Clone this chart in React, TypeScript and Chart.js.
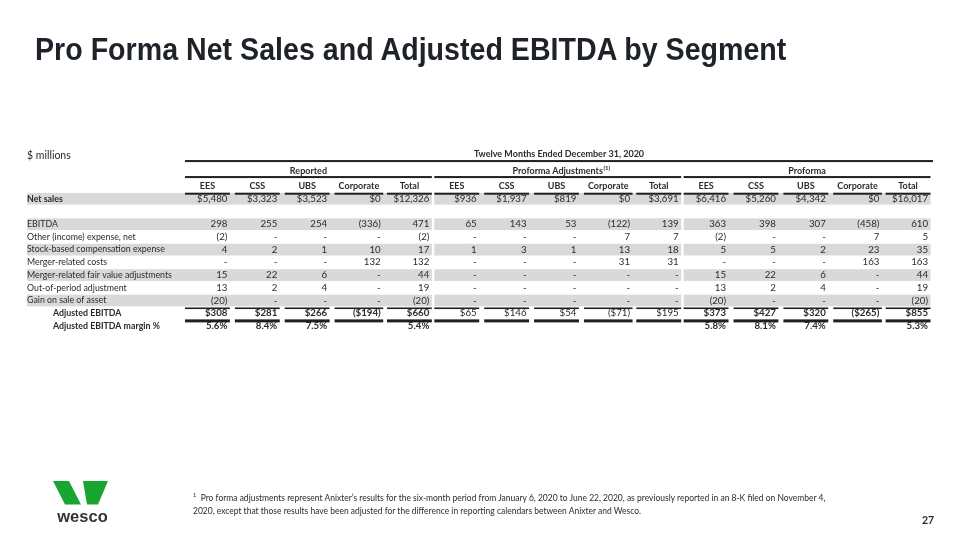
import React, { useEffect, useRef } from 'react';
import { Chart, registerables } from 'chart.js';

Chart.register(...registerables);

// ---------- text ----------
const titleText = 'Pro Forma Net Sales and Adjusted EBITDA by Segment';
const unitText = '$ millions';
const periodText = 'Twelve Months Ended December 31, 2020';
const groups = ['Reported', 'Proforma Adjustments', 'Proforma'];
const groupNotes = ['', '(1)', ''];
const segments = ['EES', 'CSS', 'UBS', 'Corporate', 'Total'];
const rowKeys = [
  '',
  'Net sales',
  ' ',
  'EBITDA',
  'Other (income) expense, net',
  'Stock-based compensation expense',
  'Merger-related costs',
  'Merger-related fair value adjustments',
  'Out-of-period adjustment',
  'Gain on sale of asset',
  'Adjusted EBITDA',
  'Adjusted EBITDA margin %',
];
const rowFormats = ['header', 'currency', 'blank', 'plain', 'plain', 'plain', 'plain', 'plain', 'plain', 'plain', 'currency', 'percent'];
const footnoteLine1 = 'Pro forma adjustments represent Anixter\u2019s results for the six-month period from January 6, 2020 to June 22, 2020, as previously reported in an 8-K filed on November 4,';
const footnoteLine2 = '2020, except that those results have been adjusted for the difference in reporting calendars between Anixter and Wesco.';
const pageNumber = '27';

// ---------- values (null = "-") ----------
const reportedNetSales = [5480, 3323, 3523, 0, 12326];
const reportedEbitda = [298, 255, 254, -336, 471];
const reportedOtherExpense = [-2, null, null, null, -2];
const reportedStockComp = [4, 2, 1, 10, 17];
const reportedMergerCosts = [null, null, null, 132, 132];
const reportedMergerFairValue = [15, 22, 6, null, 44];
const reportedOutOfPeriod = [13, 2, 4, null, 19];
const reportedGainOnSale = [-20, null, null, null, -20];
const reportedAdjEbitda = [308, 281, 266, -194, 660];
const reportedMargin = [5.6, 8.4, 7.5, null, 5.4];

const adjNetSales = [936, 1937, 819, 0, 3691];
const adjEbitda = [65, 143, 53, -122, 139];
const adjOtherExpense = [null, null, null, 7, 7];
const adjStockComp = [1, 3, 1, 13, 18];
const adjMergerCosts = [null, null, null, 31, 31];
const adjMergerFairValue = [null, null, null, null, null];
const adjOutOfPeriod = [null, null, null, null, null];
const adjGainOnSale = [null, null, null, null, null];
const adjAdjEbitda = [65, 146, 54, -71, 195];
const adjMargin = [null, null, null, null, null];

const proformaNetSales = [6416, 5260, 4342, 0, 16017];
const proformaEbitda = [363, 398, 307, -458, 610];
const proformaOtherExpense = [-2, null, null, 7, 5];
const proformaStockComp = [5, 5, 2, 23, 35];
const proformaMergerCosts = [null, null, null, 163, 163];
const proformaMergerFairValue = [15, 22, 6, null, 44];
const proformaOutOfPeriod = [13, 2, 4, null, 19];
const proformaGainOnSale = [-20, null, null, null, -20];
const proformaAdjEbitda = [373, 427, 320, -265, 855];
const proformaMargin = [5.8, 8.1, 7.4, null, 5.3];

const groupRows = [
  [null, reportedNetSales, null, reportedEbitda, reportedOtherExpense, reportedStockComp, reportedMergerCosts, reportedMergerFairValue, reportedOutOfPeriod, reportedGainOnSale, reportedAdjEbitda, reportedMargin],
  [null, adjNetSales, null, adjEbitda, adjOtherExpense, adjStockComp, adjMergerCosts, adjMergerFairValue, adjOutOfPeriod, adjGainOnSale, adjAdjEbitda, adjMargin],
  [null, proformaNetSales, null, proformaEbitda, proformaOtherExpense, proformaStockComp, proformaMergerCosts, proformaMergerFairValue, proformaOutOfPeriod, proformaGainOnSale, proformaAdjEbitda, proformaMargin],
];

// ---------- layout / style ----------
const colFrac = [
  [0, 0.18],
  [0.2, 0.38],
  [0.4, 0.58],
  [0.6, 0.795],
  [0.81, 0.99],
];
const shadedRows = [1, 3, 5, 7, 9];
const boldLabelRows = [1, 10, 11];
const indentRows = [10, 11];
const FONT = 'Lato, "Liberation Sans", sans-serif';
const TEXT = '#2b2b2b';
const SHADE = '#d9d9d9';
const LINE = '#1f1f1f';

const fmtNum = (v: number) => Math.abs(v).toLocaleString('en-US');
function formatValue(kind: string, v: number | null): string {
  if (kind === 'percent') return v === null ? '' : `${v.toFixed(1)}%`;
  if (v === null) return '-';
  if (kind === 'currency') return v < 0 ? `($${fmtNum(v)})` : `$${fmtNum(v)}`;
  return v < 0 ? `(${fmtNum(v)})` : `${fmtNum(v)}`;
}

const tablePlugin = {
  id: 'tablePlugin',
  afterDraw(chart: any) {
    const { ctx, scales } = chart;
    const x = scales.x;
    const y = scales.y;
    const labelLeft = chart.chartArea.left - 158;
    const colL = (g: number, c: number) => x.getPixelForValue(g + colFrac[c][0]);
    const colR = (g: number, c: number) => x.getPixelForValue(g + colFrac[c][1]);
    const rowH = y.getPixelForValue(1) - y.getPixelForValue(0);
    ctx.save();

    // shading
    ctx.fillStyle = SHADE;
    shadedRows.forEach((r) => {
      const top = y.getPixelForValue(r) - rowH / 2 + 0.5;
      const h = rowH - 1;
      for (let g = 0; g < groups.length; g++) {
        const l = g === 0 ? labelLeft : x.getPixelForValue(g);
        const rr = x.getPixelForValue(g + 0.99);
        ctx.fillRect(l, top, rr - l, h);
      }
    });

    ctx.fillStyle = TEXT;
    ctx.textBaseline = 'middle';

    // period header + top rule
    const y0 = y.getPixelForValue(0);
    ctx.font = `bold 9px ${FONT}`;
    ctx.textAlign = 'center';
    ctx.fillText(periodText, x.getPixelForValue(1.5), y0 - 32);
    ctx.fillStyle = LINE;
    ctx.fillRect(x.getPixelForValue(0), y0 - 26, x.getPixelForValue(3) - x.getPixelForValue(0), 2);

    // group headers
    for (let g = 0; g < groups.length; g++) {
      const cx = x.getPixelForValue(g + 0.495);
      ctx.fillStyle = TEXT;
      ctx.font = `bold 9px ${FONT}`;
      const w = ctx.measureText(groups[g]).width;
      ctx.textAlign = 'center';
      ctx.fillText(groups[g], cx, y0 - 15);
      if (groupNotes[g]) {
        ctx.font = `bold 6px ${FONT}`;
        ctx.textAlign = 'left';
        ctx.fillText(groupNotes[g], cx + w / 2 + 0.5, y0 - 18);
      }
      ctx.fillStyle = LINE;
      ctx.fillRect(x.getPixelForValue(g), y0 - 10, x.getPixelForValue(g + 0.99) - x.getPixelForValue(g), 2);
    }

    // column headers and underlines
    for (let g = 0; g < groups.length; g++) {
      for (let c = 0; c < segments.length; c++) {
        const l = colL(g, c);
        const r = colR(g, c);
        ctx.fillStyle = TEXT;
        ctx.font = `bold 9px ${FONT}`;
        ctx.textAlign = 'center';
        ctx.fillText(segments[c], (l + r) / 2, y0);
        ctx.fillStyle = LINE;
        ctx.fillRect(l, y.getPixelForValue(0.5) + 0.3, r - l, 2);
        ctx.fillRect(l, y.getPixelForValue(9.5) + 0.6, r - l, 1.6);
        ctx.fillRect(l, y.getPixelForValue(10.5) - 0.2, r - l, 3);
      }
    }

    // row labels
    ctx.fillStyle = TEXT;
    ctx.textAlign = 'left';
    for (let r = 1; r < rowKeys.length; r++) {
      if (rowFormats[r] === 'blank') continue;
      ctx.font = `${boldLabelRows.includes(r) ? 'bold ' : ''}8.8px ${FONT}`;
      const lx = labelLeft + (indentRows.includes(r) ? 26 : 0);
      ctx.fillText(rowKeys[r], lx, y.getPixelForValue(r));
    }

    // values
    ctx.textAlign = 'right';
    chart.data.datasets.forEach((ds: any) => {
      ds.data.forEach((pt: any) => {
        const kind = rowFormats[pt.y];
        const bold = (pt.y === 10 && pt.g !== 1) || pt.y === 11;
        ctx.font = `${bold ? 'bold ' : ''}9.7px ${FONT}`;
        ctx.fillStyle = TEXT;
        const rx = colR(pt.g, pt.c) - 2.5;
        ctx.fillText(formatValue(kind, pt.v), rx, y.getPixelForValue(pt.y));
      });
    });

    ctx.restore();
  },
};

function buildDatasets() {
  const datasets: any[] = [];
  groupRows.forEach((rows, g) => {
    rows.forEach((vals, r) => {
      if (!vals) return;
      datasets.push({
        label: `${groups[g]} - ${rowKeys[r]}`,
        data: vals.map((v, c) => ({ x: g + (colFrac[c][0] + colFrac[c][1]) / 2, y: r, v, g, c })),
        pointRadius: 0,
        showLine: false,
      });
    });
  });
  return datasets;
}

export default function App() {
  const ref = useRef<HTMLCanvasElement>(null);
  useEffect(() => {
    if (!ref.current) return;
    const chart = new Chart(ref.current, {
      type: 'scatter',
      data: { datasets: buildDatasets() },
      options: {
        animation: false,
        responsive: false,
        maintainAspectRatio: false,
        events: [],
        layout: { padding: { left: 185, right: 27, top: 179.7, bottom: 207.7 } },
        scales: {
          x: { type: 'linear', min: 0, max: 3, display: false },
          y: { type: 'category', labels: rowKeys, offset: true, display: false },
        },
        plugins: { legend: { display: false }, tooltip: { enabled: false } },
      },
      plugins: [tablePlugin],
    } as any);
    return () => chart.destroy();
  }, []);

  return (
    <div style={{ position: 'fixed', left: 0, top: 0, width: 960, height: 540, background: '#fff', overflow: 'hidden', fontFamily: FONT, color: TEXT }}>
      <canvas ref={ref} width={960} height={540} style={{ position: 'absolute', left: 0, top: 0, display: 'block' }} />
      <div style={{ position: 'absolute', left: 35, top: 29, fontFamily: '"Liberation Sans", sans-serif', fontWeight: 700, fontSize: 32, color: '#1e2229', whiteSpace: 'nowrap', lineHeight: '40px', transform: 'scaleX(0.894)', transformOrigin: 'left center' }}>{titleText}</div>
      <div style={{ position: 'absolute', left: 27, top: 147, fontSize: 10.5, whiteSpace: 'nowrap', lineHeight: '16px' }}>{unitText}</div>
      <svg style={{ position: 'absolute', left: 50, top: 478 }} width={64} height={50} viewBox="0 0 64 50">
        <polygon points="3,3 19,3 31,26.5 15,26.5" fill="#1aa531" />
        <polygon points="33,3 58,3 48,26.5 37,26.5" fill="#1aa531" />
        <text x={32.5} y={44} textAnchor="middle" fontFamily='"Liberation Sans", sans-serif' fontWeight={700} fontSize={16.5} fill="#333">wesco</text>
      </svg>
      <div style={{ position: 'absolute', left: 193, top: 491, fontFamily: FONT, fontSize: 9, lineHeight: '13px', whiteSpace: 'nowrap', color: '#2b2b2b', transform: 'scaleX(0.943)', transformOrigin: 'left top' }}>
        <div><sup style={{ fontSize: 6, verticalAlign: 'top', lineHeight: '8px' }}>1</sup>&nbsp; {footnoteLine1}</div>
        <div>{footnoteLine2}</div>
      </div>
      <div style={{ position: 'absolute', left: 922, top: 513, fontWeight: 700, fontSize: 10.5, lineHeight: '14px' }}>{pageNumber}</div>
    </div>
  );
}
